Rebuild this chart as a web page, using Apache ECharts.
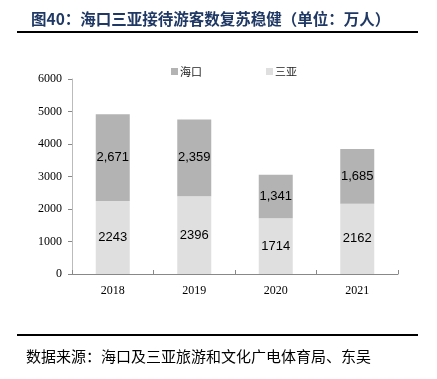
<!DOCTYPE html>
<html><head><meta charset="utf-8">
<script src="https://cdn.jsdelivr.net/npm/echarts@6/dist/echarts.min.js"></script>
<style>html,body{margin:0;padding:0;background:#fff}#c{width:437px;height:379px}</style>
</head><body><div id="c"></div>
<script>
var categories = ['2018', '2019', '2020', '2021'];
var haikou = [2671, 2359, 1341, 1685];
var sanya = [2243, 2396, 1714, 2162];
var yTicks = [0, 1000, 2000, 3000, 4000, 5000, 6000];

var chart = echarts.init(document.getElementById('c'), null, {renderer: 'canvas'});
chart.setOption({
  animation: false,
  backgroundColor: '#fff',
  title: {
    text: '图40：海口三亚接待游客数复苏稳健（单位：万人）',
    left: 26, top: 6,
    textStyle: {color: '#1f3864', fontSize: 15.5, fontWeight: 'bold', fontFamily: 'Noto Sans CJK SC'}
  },
  graphic: [
    {type: 'line', shape: {x1: 17, y1: 32, x2: 418, y2: 32}, style: {stroke: '#000', lineWidth: 2}},
    {type: 'line', shape: {x1: 17, y1: 335, x2: 418, y2: 335}, style: {stroke: '#000', lineWidth: 2}},
    {type: 'text', left: 26, top: 349, style: {text: '数据来源：海口及三亚旅游和文化广电体育局、东吴', fill: '#000', font: '15px "Noto Sans CJK SC"'}}
  ],
  legend: {
    data: ['海口', '三亚'],
    top: 61, left: 166,
    itemWidth: 7, itemHeight: 7, itemGap: 64,
    icon: 'rect',
    textStyle: {fontSize: 11, color: '#222', fontFamily: 'Noto Sans CJK SC', padding: [0, 0, 0, -3]}
  },
  grid: {left: 72, right: 39, top: 79, bottom: 105},
  xAxis: {
    type: 'category', data: categories,
    axisLine: {lineStyle: {color: '#888', width: 1}},
    axisTick: {show: true, inside: true, length: 4, alignWithLabel: false, lineStyle: {color: '#888'}},
    axisLabel: {color: '#000', fontSize: 12, fontFamily: 'Liberation Serif', margin: 11}
  },
  yAxis: {
    type: 'value', min: yTicks[0], max: yTicks[yTicks.length - 1], interval: 1000,
    axisLine: {show: true, lineStyle: {color: '#bbb', width: 1}},
    axisTick: {show: true, length: 4, lineStyle: {color: '#888'}},
    splitLine: {show: false},
    axisLabel: {color: '#000', fontSize: 12, fontFamily: 'Liberation Serif', margin: 10,
      formatter: function (v) { return String(v); }}
  },
  series: [
    {
      name: '三亚', type: 'bar', stack: 'a', data: sanya, barWidth: 34,
      itemStyle: {color: '#dfdfdf'},
      label: {show: true, position: 'inside', color: '#000', fontSize: 13, fontFamily: 'Liberation Sans',
        formatter: function (p) { return String(p.value); }}
    },
    {
      name: '海口', type: 'bar', stack: 'a', data: haikou, barWidth: 34,
      itemStyle: {color: '#b3b3b3'},
      label: {show: true, position: 'inside', color: '#000', fontSize: 13, fontFamily: 'Liberation Sans',
        formatter: function (p) { return p.value.toLocaleString('en-US'); }}
    }
  ]
});
</script></body></html>
